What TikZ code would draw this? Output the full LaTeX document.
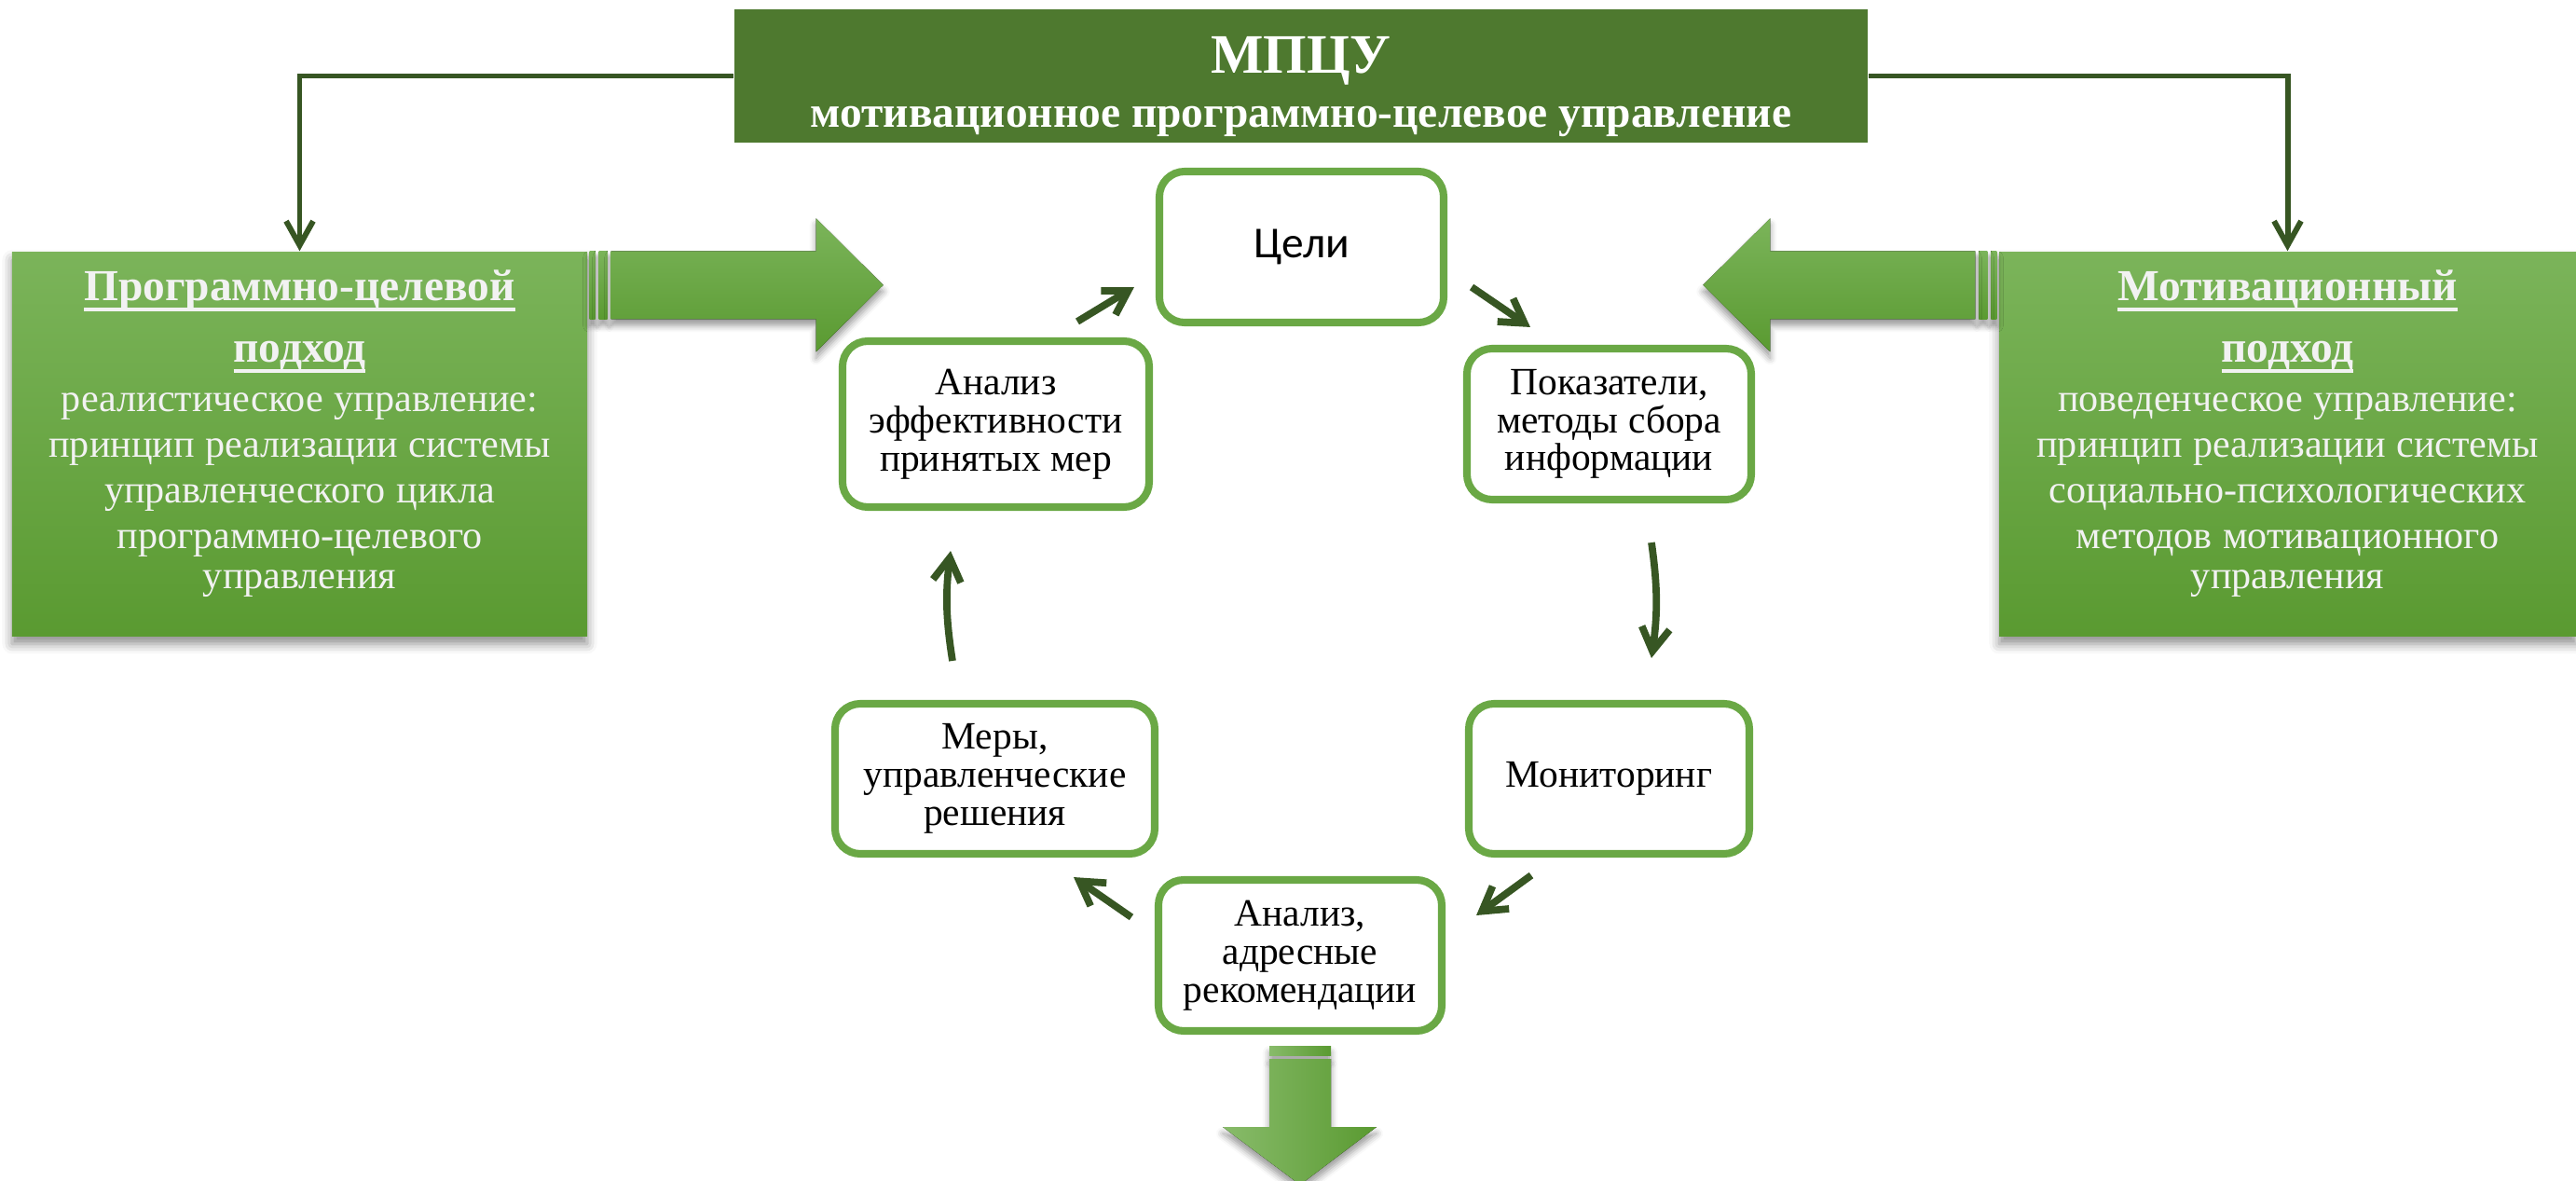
\documentclass[tikz,border=0pt]{standalone}
\usepackage{fontspec}
\setmainfont{Liberation Serif}
\newfontfamily\celifont{Carlito}
\usetikzlibrary{arrows.meta,shadows.blur}
\definecolor{titlegreen}{HTML}{4E792F}
\definecolor{boxtop}{HTML}{7BB45A}
\definecolor{boxbot}{HTML}{5A9A31}
\definecolor{cycline}{HTML}{6AA845}
\definecolor{darkarr}{HTML}{375623}
\definecolor{lighttxt}{HTML}{F2F2F2}
\newsavebox{\ulbox}
\newcommand{\headul}[1]{\leavevmode\sbox{\ulbox}{#1}\rlap{\rule[-3.4pt]{\wd\ulbox}{1.2pt}}\usebox{\ulbox}}
\begin{document}
\begin{tikzpicture}[
  cyc/.style={draw=cycline,line width=2.3pt,rounded corners=2.7mm,fill=white,align=center,inner sep=0pt,font=\fontsize{11.8}{11.6}\selectfont},
  side/.style={minimum width=6.17cm,minimum height=4.12cm,inner sep=0pt,top color=boxtop,bottom color=boxbot,draw=none,
    blur shadow={shadow xshift=0pt,shadow yshift=-2.5pt,shadow blur radius=3pt,shadow opacity=45}},
  sidetxt/.style={text width=6cm,align=center,inner sep=0pt,text=lighttxt},
  bigarr/.style={draw=none,blur shadow={shadow xshift=0pt,shadow yshift=-2pt,shadow blur radius=2pt,shadow opacity=40}},
  harr/.style={bigarr,top color=boxtop,bottom color=boxbot},
  varr/.style={bigarr,left color=boxtop!90!white,right color=boxbot},
  conn/.style={draw=darkarr,line width=1.7pt,-{Straight Barb[length=2.6mm,width=2.9mm]}},
  cycarr/.style={draw=darkarr,line width=2.2pt,-{Straight Barb[length=2.5mm,width=3mm]}}]
\useasboundingbox (0,0) rectangle (27.64,-12.67);
\node[fill=titlegreen,minimum width=12.16cm,minimum height=1.43cm] (title) at (13.96,-0.815) {};
\node[align=center,text=white,font=\bfseries,inner sep=0pt] (titletxt) at ([yshift=-1.2mm]title.center)
  {\fontsize{17}{17}\selectfont МПЦУ\\[4.5pt]\fontsize{13.5}{14}\selectfont мотивационное программно-целевое управление};
\node[side] (leftbox) at (3.215,-4.76) {};
\node[side,minimum width=6.19cm] (rightbox) at (24.545,-4.76) {};
\node[sidetxt] (lefttxt) at ([yshift=1.1mm]leftbox.center)
  {\fontsize{13.5}{18.7}\selectfont\bfseries\headul{Программно-целевой}\\\headul{подход}\par\vspace{1.1pt}
   \fontsize{12}{14}\selectfont\mdseries реалистическое управление:\\принцип реализации системы\\управленческого цикла\\программно-целевого\\управления};
\node[sidetxt] (righttxt) at ([yshift=1.1mm]rightbox.center)
  {\fontsize{13.5}{18.7}\selectfont\bfseries\headul{Мотивационный}\\\headul{подход}\par\vspace{1.1pt}
   \fontsize{12}{14}\selectfont\mdseries поведенческое управление:\\принцип реализации системы\\социально-психологических\\методов мотивационного\\управления};
\draw[conn] (title.west) -| (leftbox.north);
\draw[conn] (title.east) -| (rightbox.north);
\begin{scope}[shift={(leftbox.north east)}]
\fill[harr] (0.02,0) rectangle (0.08,-0.73);
\fill[harr] (0.12,0) rectangle (0.21,-0.73);
\fill[harr] (0.25,0) -- (2.45,0) -- (2.45,0.35) -- (3.17,-0.365) -- (2.45,-1.08) -- (2.45,-0.73) -- (0.25,-0.73) -- cycle;
\end{scope}
\begin{scope}[shift={(rightbox.north west)},xscale=-1]
\fill[harr] (0.02,0) rectangle (0.08,-0.73);
\fill[harr] (0.12,0) rectangle (0.21,-0.73);
\fill[harr] (0.25,0) -- (2.45,0) -- (2.45,0.35) -- (3.17,-0.365) -- (2.45,-1.08) -- (2.45,-0.73) -- (0.25,-0.73) -- cycle;
\end{scope}
\node[cyc,minimum width=3.05cm,minimum height=1.62cm] (celi) at (13.965,-2.65) {\celifont\fontsize{13.5}{14}\selectfont Цели};
\node[cyc,minimum width=3.05cm,minimum height=1.62cm] (pok) at (17.265,-4.55) {Показатели,\\методы сбора\\информации};
\node[cyc,minimum width=3.01cm,minimum height=1.61cm] (mon) at (17.265,-8.355) {Мониторинг};
\node[cyc,minimum width=3.04cm,minimum height=1.62cm] (anl) at (13.95,-10.25) {Анализ,\\адресные\\рекомендации};
\node[cyc,minimum width=3.43cm,minimum height=1.61cm] (mery) at (10.675,-8.355) {Меры,\\управленческие\\решения};
\node[cyc,minimum width=3.29cm,minimum height=1.78cm] (aeff) at (10.685,-4.55) {Анализ\\эффективности\\принятых мер};
\begin{scope}[shift={(anl.south)}]
\fill[varr] (-0.33,-0.12) rectangle (0.33,-0.22);
\fill[varr] (-0.33,-0.26) -- (-0.33,-0.99) -- (-0.83,-0.99) -- (0,-1.61) -- (0.82,-0.99) -- (0.33,-0.99) -- (0.33,-0.26) -- cycle;
\end{scope}
\draw[cycarr] ([shift={(0.875,0.17)}]aeff.north) -- ([shift={(-0.23,-0.43)}]celi.west);
\draw[cycarr] ([shift={(0.26,-0.43)}]celi.east) -- ([shift={(-0.845,0.19)}]pok.north);
\draw[cycarr] ([shift={(0.455,-0.42)}]pok.south) to[bend left=8] ([shift={(0.455,0.45)}]mon.north);
\draw[cycarr] ([shift={(-0.835,-0.19)}]mon.south) -- ([shift={(0.33,0.43)}]anl.east);
\draw[cycarr] ([shift={(-0.25,0.41)}]anl.west) -- ([shift={(0.845,-0.21)}]mery.south);
\draw[cycarr] ([shift={(-0.455,0.42)}]mery.north) to[bend left=8] ([shift={(-0.485,-0.43)}]aeff.south);
\end{tikzpicture}
\end{document}
